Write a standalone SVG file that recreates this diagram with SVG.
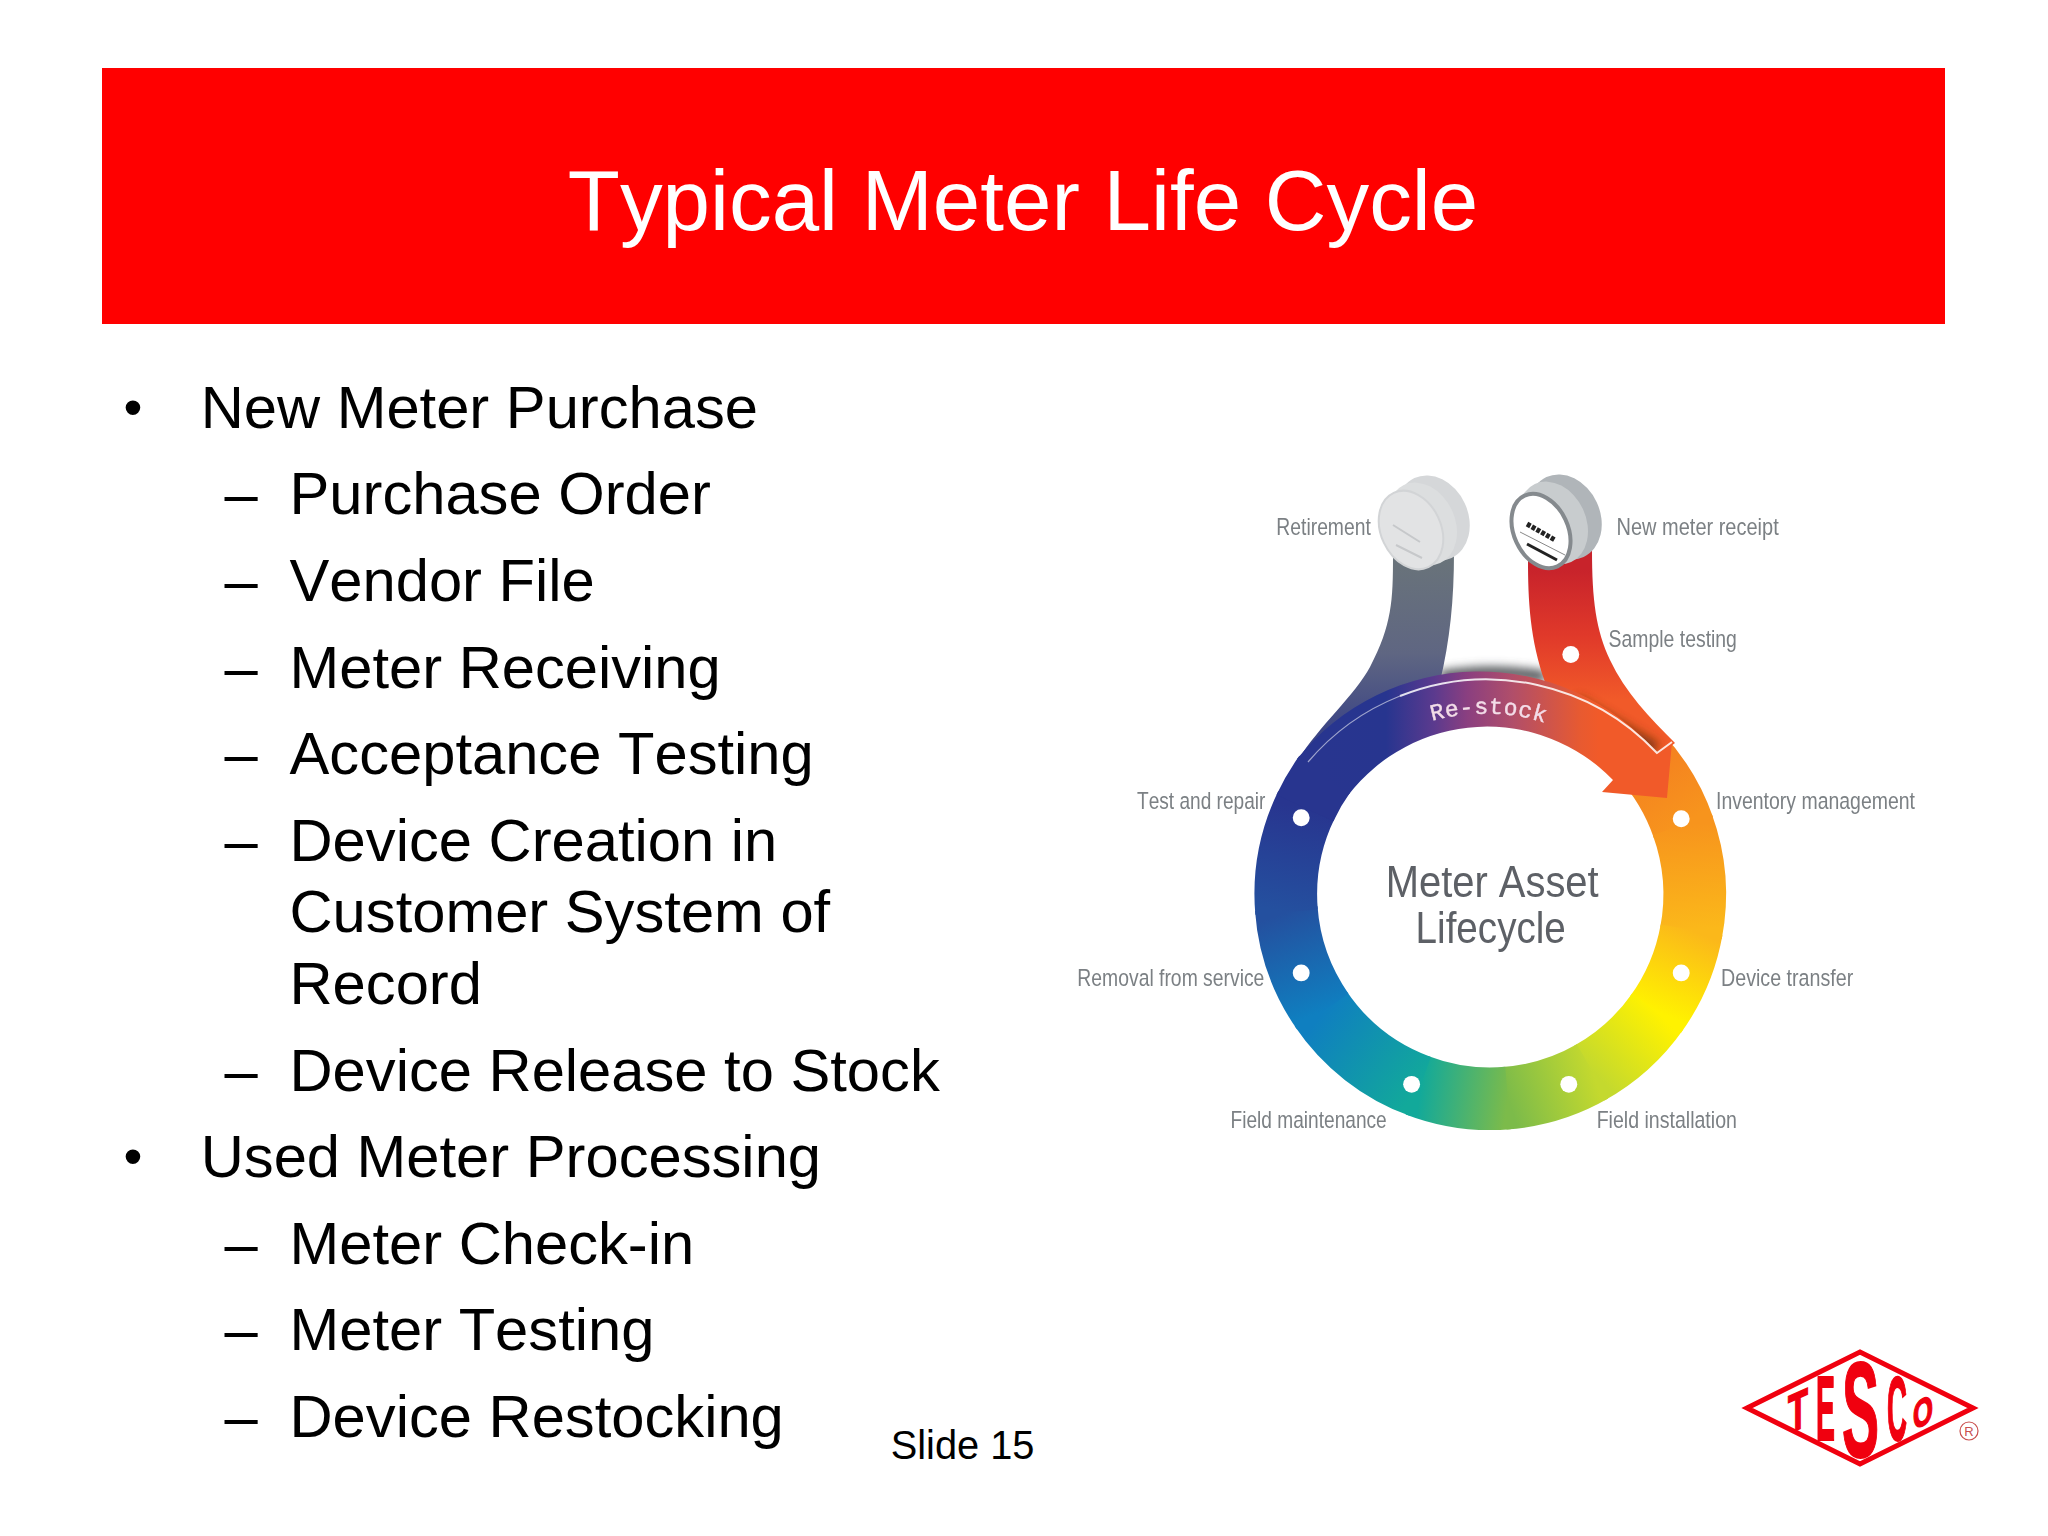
<svg xmlns="http://www.w3.org/2000/svg" xmlns:xlink="http://www.w3.org/1999/xlink" width="2048" height="1536" viewBox="0 0 2048 1536">
<style>
text{font-kerning:none}
.t{font-family:"Liberation Sans",Arial,sans-serif;font-size:59.7px;fill:#000}
.b{font-family:"Liberation Sans",Arial,sans-serif;font-size:54px;fill:#000}
.l{font-family:"Liberation Sans",Arial,sans-serif;font-size:24px;fill:#7b8084}
.m{font-family:"Liberation Sans",Arial,sans-serif;font-size:44px;fill:#5d6166}
.seg{fill:none;stroke-width:63}
.dot{fill:#fff}
.logo{font-family:"Liberation Sans",Arial,sans-serif;font-weight:700;font-size:40px;fill:#f0000f;stroke:#f0000f;stroke-width:1.4;vector-effect:non-scaling-stroke}
</style>
<defs>
<filter id="soft" x="-5%" y="-20%" width="110%" height="140%"><feGaussianBlur stdDeviation="0.55"/></filter>
<filter id="blur" filterUnits="userSpaceOnUse" x="1200" y="600" width="600" height="260"><feGaussianBlur stdDeviation="5"/></filter>
<linearGradient id="s1" gradientUnits="userSpaceOnUse" x1="1648" y1="759" x2="1691" y2="829"><stop offset="0" stop-color="#f47f20"/><stop offset="1" stop-color="#f7941d"/></linearGradient>
<linearGradient id="s2" gradientUnits="userSpaceOnUse" x1="1691" y1="829" x2="1700" y2="935"><stop offset="0" stop-color="#f7941d"/><stop offset="1" stop-color="#fbb81a"/></linearGradient>
<linearGradient id="s3" gradientUnits="userSpaceOnUse" x1="1700" y1="935" x2="1666" y2="1017"><stop offset="0" stop-color="#fbb81a"/><stop offset="1" stop-color="#fff200"/></linearGradient>
<linearGradient id="s4" gradientUnits="userSpaceOnUse" x1="1666" y1="1017" x2="1601" y2="1077"><stop offset="0" stop-color="#fff200"/><stop offset="1" stop-color="#c4d92e"/></linearGradient>
<linearGradient id="s5" gradientUnits="userSpaceOnUse" x1="1601" y1="1077" x2="1516" y2="1104"><stop offset="0" stop-color="#c4d92e"/><stop offset="1" stop-color="#7cbb4a"/></linearGradient>
<linearGradient id="s6" gradientUnits="userSpaceOnUse" x1="1516" y1="1104" x2="1428" y2="1092"><stop offset="0" stop-color="#7cbb4a"/><stop offset="1" stop-color="#12a99a"/></linearGradient>
<linearGradient id="s7" gradientUnits="userSpaceOnUse" x1="1428" y1="1092" x2="1330" y2="1017"><stop offset="0" stop-color="#12a99a"/><stop offset="1" stop-color="#0f7fc0"/></linearGradient>
<linearGradient id="s8" gradientUnits="userSpaceOnUse" x1="1330" y1="1017" x2="1293" y2="917"><stop offset="0" stop-color="#0f7fc0"/><stop offset="1" stop-color="#24509f"/></linearGradient>
<linearGradient id="s9" gradientUnits="userSpaceOnUse" x1="1293" y1="917" x2="1312" y2="812"><stop offset="0" stop-color="#24509f"/><stop offset="1" stop-color="#28358f"/></linearGradient>
<linearGradient id="gs" gradientUnits="userSpaceOnUse" x1="0" y1="560" x2="0" y2="730"><stop offset="0" stop-color="#69737a"/><stop offset=".55" stop-color="#5f6682"/><stop offset="1" stop-color="#3c4585"/></linearGradient>
<linearGradient id="rs" gradientUnits="userSpaceOnUse" x1="0" y1="570" x2="0" y2="700"><stop offset="0" stop-color="#c8232b"/><stop offset=".5" stop-color="#e0392a"/><stop offset="1" stop-color="#f15a29"/></linearGradient>
<linearGradient id="ar" gradientUnits="userSpaceOnUse" x1="1320" y1="0" x2="1620" y2="0"><stop offset="0" stop-color="#28358f"/><stop offset=".22" stop-color="#27358f"/><stop offset=".38" stop-color="#5b3a8e"/><stop offset=".49" stop-color="#8a3f80"/><stop offset=".64" stop-color="#b04e6a"/><stop offset=".87" stop-color="#e85a30"/><stop offset=".93" stop-color="#f15a29"/></linearGradient>
<path id="rp" d="M1330,788 A200 200 0 0 1 1645,793"/>
</defs>
<rect width="2048" height="1536" fill="#fff"/>
<g id="title"><rect x="102" y="68" width="1843" height="256" fill="#ff0000"/>
<text x="1023" y="230" text-anchor="middle" font-family="Liberation Sans, Arial, sans-serif" font-size="85.33" fill="#fff">Typical Meter Life Cycle</text></g>
<g id="bullets">
<text class="b" x="123.5" y="426">•</text><text class="t" x="200.7" y="428">New Meter Purchase</text>
<text class="t" x="224.5" y="514">–</text><text class="t" x="289.5" y="514">Purchase Order</text>
<text class="t" x="224.5" y="601">–</text><text class="t" x="289.5" y="601">Vendor File</text>
<text class="t" x="224.5" y="687.5">–</text><text class="t" x="289.5" y="687.5">Meter Receiving</text>
<text class="t" x="224.5" y="774">–</text><text class="t" x="289.5" y="774">Acceptance Testing</text>
<text class="t" x="224.5" y="860.5">–</text><text class="t" x="289.5" y="860.5">Device Creation in</text>
<text class="t" x="289.5" y="932">Customer System of</text>
<text class="t" x="289.5" y="1004">Record</text>
<text class="t" x="224.5" y="1090.5">–</text><text class="t" x="289.5" y="1090.5">Device Release to Stock</text>
<text class="b" x="123.5" y="1175">•</text><text class="t" x="200.7" y="1177">Used Meter Processing</text>
<text class="t" x="224.5" y="1263.5">–</text><text class="t" x="289.5" y="1263.5">Meter Check-in</text>
<text class="t" x="224.5" y="1350">–</text><text class="t" x="289.5" y="1350">Meter Testing</text>
<text class="t" x="224.5" y="1436.5">–</text><text class="t" x="289.5" y="1436.5">Device Restocking</text>
</g>
<g id="slide-number"><text x="890.7" y="1459" font-family="Liberation Sans, Arial, sans-serif" font-size="39.8" fill="#000">Slide 15</text></g>
<g id="ring" transform="scale(0.9948)">
<path class="seg" stroke="url(#s1)" d="M1648.3,758.8 A205.5 205.5 0 0 1 1692.3,832.1"/>
<path class="seg" stroke="url(#s2)" d="M1691.1,828.7 A205.5 205.5 0 0 1 1699.8,938.2"/>
<path class="seg" stroke="url(#s3)" d="M1700.4,934.7 A205.5 205.5 0 0 1 1664.2,1019.8"/>
<path class="seg" stroke="url(#s4)" d="M1666.3,1016.9 A205.5 205.5 0 0 1 1597.6,1078.8"/>
<path class="seg" stroke="url(#s5)" d="M1600.8,1077 A205.5 205.5 0 0 1 1512.3,1104"/>
<path class="seg" stroke="url(#s6)" d="M1515.9,1103.7 A205.5 205.5 0 0 1 1424.3,1090.9"/>
<path class="seg" stroke="url(#s7)" d="M1427.7,1092.1 A205.5 205.5 0 0 1 1327.6,1014"/>
<path class="seg" stroke="url(#s8)" d="M1329.7,1016.9 A205.5 205.5 0 0 1 1293,913.3"/>
<path class="seg" stroke="url(#s9)" d="M1293.3,916.9 A205.5 205.5 0 0 1 1313.3,808.9"/>
<path class="seg" stroke="#28358f" d="M1311.8,812.2 A205.5 205.5 0 0 1 1331.7,778.2"/>
</g>
<g id="connectors">
<path d="M1440,677 Q1490,668 1545,677" fill="none" stroke="#55595b" stroke-width="12" filter="url(#blur)"/>
<path id="stem-grey" d="M1393,556 C1393,600 1392,625 1370,667 C1355,695 1320,725 1298,760 L1440,682 C1450,640 1454,600 1454,552 Z" fill="url(#gs)"/>
<path id="stem-red" d="M1528,560 C1528,600 1530,640 1545,682 L1657,757 L1675,743 C1650,718 1625,692 1610,660 C1596,630 1592,600 1592,550 Z" fill="url(#rs)"/>
<path d="M1575,703 L1655,750" fill="none" stroke="#6d3208" stroke-width="16" opacity=".8" filter="url(#blur)"/>
<path id="restock-arrow" d="M1297,759 A234 234 0 0 1 1657,753 L1672,742 L1667,798 L1602,792 L1613,780 A175 175 0 0 0 1348.4,795 Z" fill="url(#ar)"/>
<path d="M1308,762 A234 234 0 0 1 1400,696" fill="none" stroke="#fff" stroke-width="1.2" opacity=".55"/>
<path d="M1400,696 A234 234 0 0 1 1657,753 L1672,742" fill="none" stroke="#fff" stroke-width="2" opacity=".85"/>
<text font-family="Liberation Mono, monospace" font-size="23" fill="#f3dde8" stroke="#f3dde8" stroke-width=".4" letter-spacing=".5" filter="url(#soft)"><textPath xlink:href="#rp" href="#rp" startOffset="50%" text-anchor="middle">Re-stock</textPath></text>
</g>
<g id="dots" transform="scale(0.9948)">
<circle class="dot" cx="1579" cy="658" r="8.5"/>
<circle class="dot" cx="1690" cy="823" r="8.5"/>
<circle class="dot" cx="1690" cy="978" r="8.5"/>
<circle class="dot" cx="1577" cy="1090" r="8.5"/>
<circle class="dot" cx="1419" cy="1090" r="8.5"/>
<circle class="dot" cx="1308" cy="978" r="8.5"/>
<circle class="dot" cx="1308" cy="822" r="8.5"/>
</g>
<g id="meter-old">
<ellipse cx="1433" cy="518" rx="35" ry="44" transform="rotate(-25 1433 518)" fill="#d5d7d9"/>
<ellipse cx="1422" cy="524" rx="33" ry="43" transform="rotate(-25 1422 524)" fill="#dcdedf"/>
<ellipse cx="1411" cy="530" rx="30" ry="41" transform="rotate(-25 1411 530)" fill="#e2e3e4" stroke="#d2d4d6" stroke-width="2"/>
<path d="M1393,525 L1420,542 M1396,545 L1422,558" stroke="#c6c8ca" stroke-width="2" fill="none"/>
</g>
<g id="meter-new">
<ellipse cx="1565" cy="517" rx="35" ry="44" transform="rotate(-25 1565 517)" fill="#b0b5b9"/>
<ellipse cx="1553" cy="523" rx="33" ry="43" transform="rotate(-25 1553 523)" fill="#c8ccce"/>
<ellipse cx="1541" cy="531" rx="27" ry="39" transform="rotate(-25 1541 531)" fill="#fff" stroke="#858a8e" stroke-width="4"/>
<path d="M1527,524 L1555,540" stroke="#222" stroke-width="5" stroke-dasharray="4 1.5" fill="none"/>
<path d="M1527,544 L1557,560" stroke="#222" stroke-width="3" fill="none"/>
<path d="M1520,532 L1565,555" stroke="#888" stroke-width="1" fill="none"/>
</g>
<g id="labels" filter="url(#soft)" transform="scale(0.9948)">
<text class="l" x="1283" y="538" textLength="95" lengthAdjust="spacingAndGlyphs">Retirement</text>
<text class="l" x="1625" y="538" textLength="163" lengthAdjust="spacingAndGlyphs">New meter receipt</text>
<text class="l" x="1617" y="650" textLength="129" lengthAdjust="spacingAndGlyphs">Sample testing</text>
<text class="l" x="1143" y="813" textLength="129" lengthAdjust="spacingAndGlyphs">Test and repair</text>
<text class="l" x="1725" y="813" textLength="200" lengthAdjust="spacingAndGlyphs">Inventory management</text>
<text class="l" x="1083" y="991" textLength="188" lengthAdjust="spacingAndGlyphs">Removal from service</text>
<text class="l" x="1730" y="991" textLength="133" lengthAdjust="spacingAndGlyphs">Device transfer</text>
<text class="l" x="1237" y="1134" textLength="157" lengthAdjust="spacingAndGlyphs">Field maintenance</text>
<text class="l" x="1605" y="1134" textLength="141" lengthAdjust="spacingAndGlyphs">Field installation</text>
<text class="m" x="1393" y="902" textLength="214" lengthAdjust="spacingAndGlyphs">Meter Asset</text>
<text class="m" x="1423" y="948" textLength="151" lengthAdjust="spacingAndGlyphs">Lifecycle</text>
</g>
<g id="logo">
<path d="M1747,1408 L1860,1352 L1973,1408 L1860,1464 Z" fill="none" stroke="#f0000f" stroke-width="5"/>
<text class="logo" transform="translate(1788,1434) skewY(-24) scale(.818,1.35)">T</text>
<text class="logo" transform="translate(1816,1440) scale(.71,2.26)">E</text>
<text class="logo" transform="translate(1842,1457) scale(1.39,3.37)">S</text>
<text class="logo" transform="translate(1887,1440) scale(.69,2.26)">C</text>
<text class="logo" transform="translate(1913,1430) skewY(-24) scale(.64,.97)">O</text>
<circle cx="1969" cy="1431" r="9" fill="none" stroke="#c9504f" stroke-width="1.2"/>
<text x="1969" y="1436" text-anchor="middle" font-family="Liberation Sans, Arial, sans-serif" font-size="13" fill="#c9504f">R</text>
</g>
</svg>
